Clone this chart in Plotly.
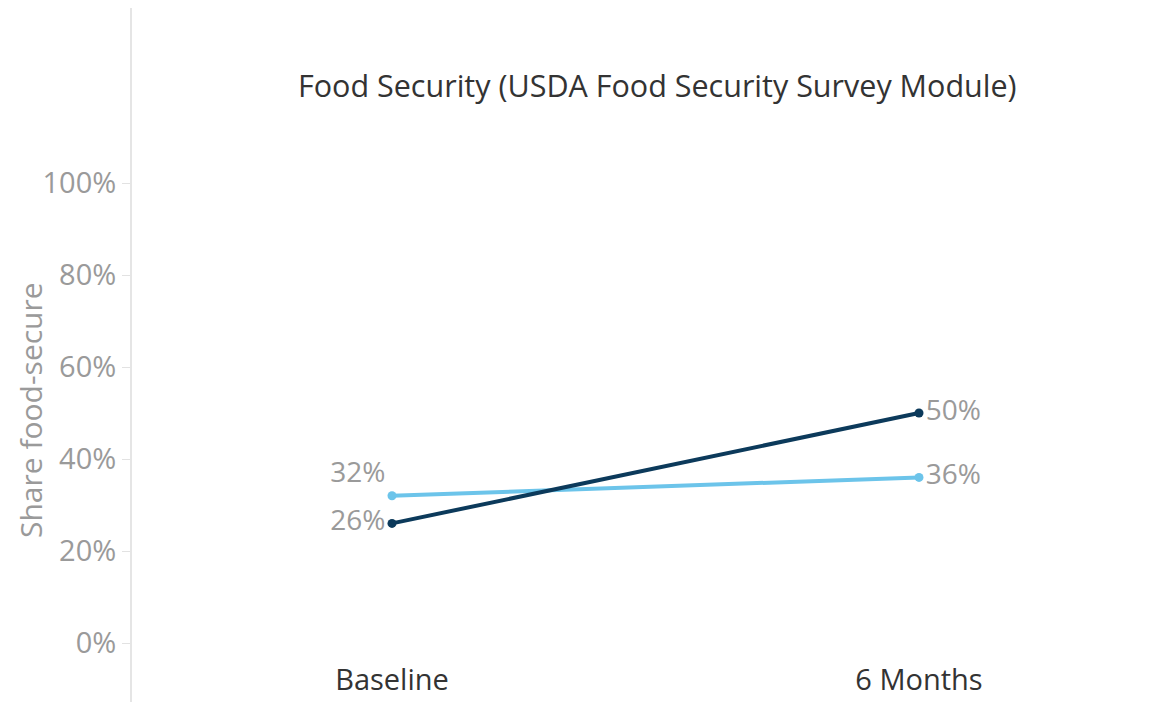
import plotly.graph_objects as go

categories = ["Baseline", "6 Months"]
series_dark = [26, 50]
series_light = [32, 36]
y_ticks = [0, 20, 40, 60, 80, 100]
y_tick_labels = ["0%", "20%", "40%", "60%", "80%", "100%"]

DARK = "#0c3a5b"
LIGHT = "#6cc4ea"
GRAY = "#9a9a9a"
FONT = "Open Sans"

OFF = 8  # default page body margin
W, H = 1166 - OFF, 717 - OFF
ML = 131 - OFF
MR = W - (1150 - OFF)
MT = 0
PB = 660 - OFF  # plot bottom in figure pixels
MB = H - PB
PW = W - ML - MR
PH = H - MT - MB


def px_x(p):
    return ((p - OFF) - ML) / PW


def px_y(p):
    return (PB - (p - OFF)) / PH


xs = [0, 1]

fig = go.Figure()
fig.add_trace(go.Scatter(
    x=xs, y=series_light, mode="lines+markers+text",
    line=dict(color=LIGHT, width=4), marker=dict(color=LIGHT, size=9),
    text=[f"{v}%" for v in series_light],
    textposition=["top left", "middle right"],
    textfont=dict(family=FONT, size=28, color=GRAY),
    hoverinfo="skip", showlegend=False, cliponaxis=False,
))
fig.add_trace(go.Scatter(
    x=xs, y=series_dark, mode="lines+markers+text",
    line=dict(color=DARK, width=4), marker=dict(color=DARK, size=9),
    text=[f"{v}%" for v in series_dark],
    textposition=["middle left", "middle right"],
    textfont=dict(family=FONT, size=28, color=GRAY),
    hoverinfo="skip", showlegend=False, cliponaxis=False,
))

# x: category positions at page pixels 392 and 919
xscale = 919 - 392
x0 = -(392 - 131) / xscale
x1 = (1150 - 392) / xscale
# y: 0% at page pixel 643, 100% at 183
yscale = (643 - 183) / 100
y0 = -(660 - 643) / yscale
y1 = (643 - OFF) / yscale

fig.update_layout(
    width=W, height=H,
    margin=dict(l=ML, r=MR, t=MT, b=MB),
    plot_bgcolor="white", paper_bgcolor="white",
    font=dict(family=FONT, color=GRAY),
    xaxis=dict(
        range=[x0, x1], tickvals=xs, ticktext=categories,
        showgrid=False, zeroline=False, showline=False, ticks="",
        tickfont=dict(family=FONT, size=29, color="#333333"),
    ),
    yaxis=dict(
        range=[y0, y1], tickvals=y_ticks, ticktext=y_tick_labels,
        showgrid=False, zeroline=False, showline=False,
        ticks="outside", ticklen=8, tickcolor="#e2e2e2", tickwidth=1,
        tickfont=dict(family=FONT, size=29, color=GRAY),
    ),
    shapes=[dict(
        type="line", xref="paper", yref="paper",
        x0=0, x1=0, y0=px_y(702), y1=px_y(OFF),
        line=dict(color="#dddddd", width=1.5),
    )],
    annotations=[
        dict(text="Food Security (USDA Food Security Survey Module)",
             xref="paper", yref="paper", x=px_x(657), y=px_y(85),
             showarrow=False, xanchor="center", yanchor="middle",
             font=dict(family=FONT, size=30.5, color="#333333")),
        dict(text="Share food-secure",
             xref="paper", yref="paper", x=px_x(30), y=px_y(410),
             showarrow=False, textangle=-90, xanchor="center", yanchor="middle",
             font=dict(family=FONT, size=30, color=GRAY)),
    ],
)

fig.write_html("out.html")
